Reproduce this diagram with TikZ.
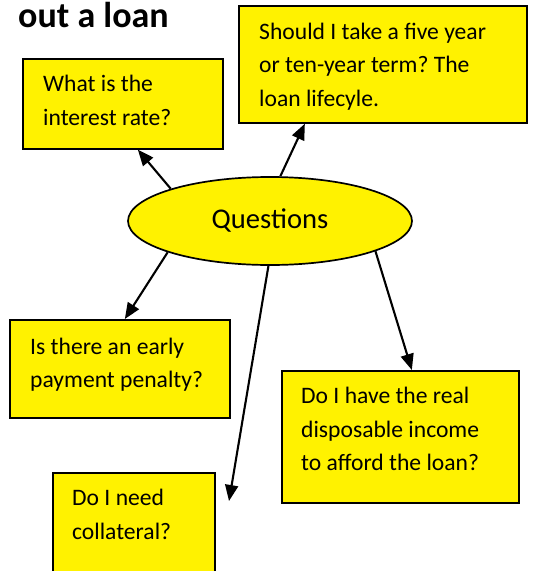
\documentclass[tikz,border=0pt]{standalone}
\usepackage{fontspec}
\setmainfont{Carlito}
\usetikzlibrary{shapes.geometric,arrows.meta}
\frenchspacing

\tikzset{
  qbox/.style={draw=black, line width=1.7pt, fill=yellow, anchor=north west, inner sep=0pt},
  qtext/.style={anchor=base west, align=left, inner sep=0pt, font=\fontsize{23.6}{33.4}\selectfont},
  qarrow/.style={line width=2.1pt, -{Triangle[length=16pt,width=13pt]}},
}

\begin{document}
\begin{tikzpicture}[x=1pt,y=-1pt]
\clip (0,0) rectangle (544,571);
\fill[white] (0,0) rectangle (544,571);

% heading, cut at the top edge
\node[anchor=base west, inner sep=0pt, font=\fontsize{36}{40}\selectfont\bfseries] (title) at (18,27) {out a loan};

% centre
\node[ellipse, draw, line width=1.7pt, fill=yellow, minimum width=284pt, minimum height=88pt, inner sep=0pt,
      font=\fontsize{28.6}{30}\selectfont] (q) at (270,221) {Questions};

% the question boxes (text is set from its last baseline)
\node[qbox, minimum width=200pt, minimum height=90pt] (rate) at (22,58) {};
\node[qtext] (rate-t) at (43,125) {What is the\\interest rate?};

\node[qbox, minimum width=288pt, minimum height=117pt] (term) at (238,5) {};
\node[qtext] (term-t) at (259,106) {Should I take a five year\\or ten-year term? The\\loan lifecyle.};

\node[qbox, minimum width=220pt, minimum height=98pt] (penalty) at (9,319) {};
\node[qtext] (penalty-t) at (30,387.5) {Is there an early\\payment penalty?};

\node[qbox, minimum width=237pt, minimum height=132pt] (income) at (281,370) {};
\node[qtext] (income-t) at (301,470.5) {Do I have the real\\disposable income\\to afford the loan?};

\node[qbox, minimum width=162pt, minimum height=130pt] (coll) at (52,472) {};
\node[qtext] (coll-t) at (72,539) {Do I need\\collateral?};

% arrows out of the ellipse
\coordinate (coll-end) at (229,501);
\draw[qarrow] (q.162) -- ([xshift=15pt]rate.south);
\draw[qarrow] (q.77) -- ([xshift=-78pt]term.south);
\draw[qarrow] (q.197) -- ([xshift=5pt]penalty.north);
\draw[qarrow] (q.268) -- (coll-end);
\draw[qarrow] (q.344) -- ([xshift=11.5pt]income.north);
\end{tikzpicture}
\end{document}
